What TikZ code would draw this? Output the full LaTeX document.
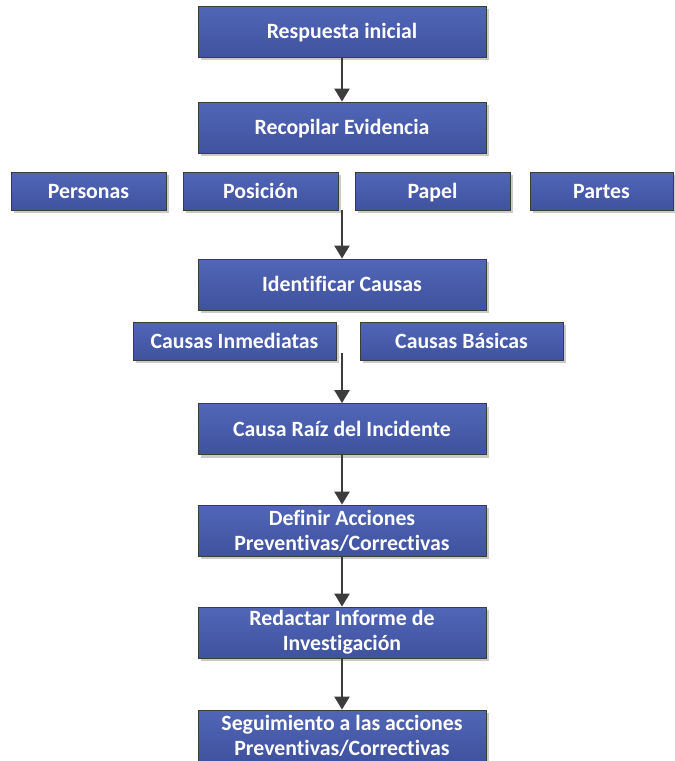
\documentclass[tikz,border=0pt]{standalone}
\usepackage{fontspec}
\setmainfont{Carlito}[Ligatures=NoCommon]
\usetikzlibrary{arrows.meta,shadows}
\definecolor{boxtop}{RGB}{82,102,184}
\definecolor{boxbot}{RGB}{62,82,158}
\definecolor{edge}{RGB}{60,60,60}

\begin{document}
\begin{tikzpicture}[x=1pt, y=-1pt, >={Triangle[length=13pt,width=15pt]},
  font=\fontsize{21.8}{25}\selectfont\bfseries,
  box/.style={draw=edge, line width=0.8pt, top color=boxtop, bottom color=boxbot,
    text=white, align=center, inner sep=2pt,
    drop shadow={shadow xshift=3pt, shadow yshift=-3pt, fill=black!35, opacity=0.6}},
  oneline/.style={text height=17pt, text depth=3pt},
  mainbox/.style={box, minimum width=288pt, minimum height=51pt},
  subbox/.style={box, oneline, minimum height=38pt},
  flow/.style={->, draw=edge, line width=2.2pt}]
  \useasboundingbox (0,0) rectangle (675,761);
  \node[mainbox, oneline] (resp)  at (342,31.5)  {Respuesta inicial};
  \node[mainbox, oneline] (recop) at (342,127.5) {Recopilar Evidencia};
  \node[subbox, minimum width=155pt] (pers) at (88.5,191)  {Personas};
  \node[subbox, minimum width=155pt] (posi) at (260.5,191) {Posición};
  \node[subbox, minimum width=155pt] (pape) at (432.5,191) {Papel};
  \node[subbox, minimum width=143pt] (part) at (601.5,191) {Partes};
  \node[mainbox, oneline] (ident) at (342,284.5) {Identificar Causas};
  \node[subbox, minimum width=203pt] (inme) at (234.5,341) {Causas Inmediatas};
  \node[subbox, minimum width=203pt] (basi) at (461.5,341) {Causas Básicas};
  \node[mainbox, oneline] (raiz)  at (342,429)   {Causa Raíz del Incidente};
  \node[mainbox] (defin) at (342,530.5) {Definir Acciones\\Preventivas/Correctivas};
  \node[mainbox] (redac) at (342,632.5) {Redactar Informe de\\Investigación};
  \node[mainbox] (segui) at (342,735.5) {Seguimiento a las acciones\\Preventivas/Correctivas};
  \coordinate (gap1) at (342,210);
  \coordinate (gap2) at (342,353);
  \draw[flow] (resp) -- (recop);
  \draw[flow] (gap1) -- (ident);
  \draw[flow] (gap2) -- (raiz);
  \draw[flow] (raiz) -- (defin);
  \draw[flow] (defin) -- (redac);
  \draw[flow] (redac) -- (segui);
\end{tikzpicture}
\end{document}
